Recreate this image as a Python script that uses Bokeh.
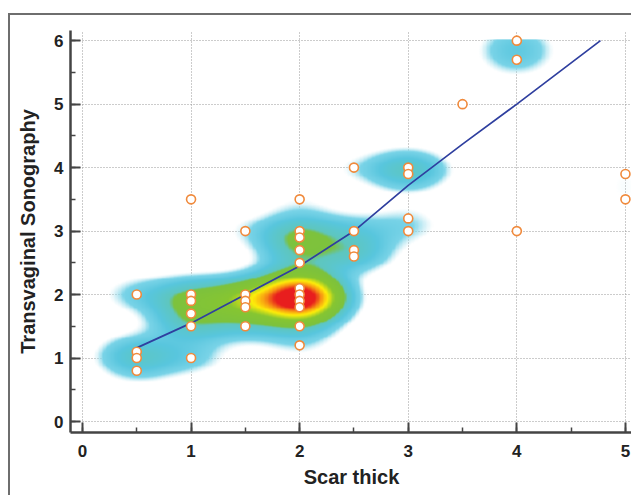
import numpy as np
from bokeh.plotting import figure
from bokeh.models import SingleIntervalTicker, Range1d
from bokeh.embed import file_html
from bokeh.resources import INLINE

# ---- data ----
scar_x = [0.5, 0.5, 0.5, 0.5,
          1, 1, 1, 1, 1, 1,
          1.5, 1.5, 1.5, 1.5, 1.5,
          2, 2, 2, 2, 2, 2, 2, 2, 2, 2, 2,
          2.5, 2.5, 2.5, 2.5,
          3, 3, 3, 3,
          3.5,
          4, 4, 4,
          5, 5]
tvs_y = [2.0, 1.1, 1.0, 0.8,
         3.5, 2.0, 1.9, 1.7, 1.5, 1.0,
         3.0, 2.0, 1.9, 1.8, 1.5,
         3.5, 3.0, 2.9, 2.7, 2.5, 2.1, 2.0, 1.9, 1.8, 1.5, 1.2,
         4.0, 3.0, 2.7, 2.6,
         4.0, 3.9, 3.2, 3.0,
         5.0,
         6.0, 5.7, 3.0,
         3.9, 3.5]
counts = [2, 2, 2, 1,
          1, 3, 2, 2, 3, 2,
          1, 4, 3, 3, 2,
          1, 3, 2, 2, 2, 6, 8, 8, 6, 2, 1,
          1, 2, 2, 2,
          3, 2, 1, 1,
          1,
          2, 2, 1,
          1, 1]

fit_x = [0.5, 1.0, 1.5, 2.0, 2.5, 3.0, 3.5, 4.0, 4.77]
fit_y = [1.16, 1.55, 2.0, 2.45, 3.0, 3.72, 4.37, 5.0, 6.0]

x_label = "Scar thick"
y_label = "Transvaginal Sonography"

# ---- density image (kernel density of the points) ----
x0, x1 = -0.11, 5.065
y0, y1 = -0.173, 6.02
nx, ny = 420, 420
gx = np.linspace(x0, x1, nx)
gy = np.linspace(y0, y1, ny)
X, Y = np.meshgrid(gx, gy)
sx, sy = 0.25, 0.21
D = np.zeros_like(X)
for px, py, c in zip(scar_x, tvs_y, counts):
    D += c * np.exp(-((X - px) ** 2 / (2 * sx ** 2) + (Y - py) ** 2 / (2 * sy ** 2)))

stops = [0, 1.2, 2.0, 3.5, 5.7, 6.2, 11.0, 15.0, 18.5, 22.0]
R = [190, 190, 122, 88, 95, 125, 135, 255, 248, 232]
G = [232, 232, 212, 198, 198, 194, 198, 238, 150, 30]
B = [242, 242, 232, 222, 190, 62, 50, 10, 20, 30]
A = [0, 0, 255, 255, 255, 255, 255, 255, 255, 255]
r = np.interp(D, stops, R).astype(np.uint32)
g = np.interp(D, stops, G).astype(np.uint32)
b = np.interp(D, stops, B).astype(np.uint32)
a = np.interp(D, stops, A).astype(np.uint32)
img = ((a << 24) | (b << 16) | (g << 8) | r).astype(np.uint32)

# ---- figure ----
p = figure(width=623, height=482, output_backend="svg", toolbar_location=None,
           x_range=Range1d(-0.11, 5.065), y_range=Range1d(-0.173, 6.16),
           min_border_left=60, min_border_right=1, min_border_top=15, min_border_bottom=65)
p.styles = {"margin-left": "8px", "margin-top": "13px",
            "border-top": "2px solid #6e6e6e", "border-left": "2px solid #6e6e6e"}
p.outline_line_color = None
p.background_fill_color = "white"
p.border_fill_color = "white"

p.image_rgba(image=[img], x=x0, y=y0, dw=x1 - x0, dh=y1 - y0)

p.line(fit_x, fit_y, line_color="#2f3f9f", line_width=1.7)
p.scatter(scar_x, tvs_y, size=9, fill_color="white", line_color="#f08a3c", line_width=1.6)

for ax in (p.xaxis[0], p.yaxis[0]):
    ax.ticker = SingleIntervalTicker(interval=1, num_minor_ticks=2)
    ax.axis_line_color = "#444444"
    ax.axis_line_width = 2.5
    ax.major_tick_line_color = "#444444"
    ax.major_tick_line_width = 2
    ax.minor_tick_line_color = "#444444"
    ax.minor_tick_line_width = 1.5
    ax.major_tick_in = 10
    ax.major_tick_out = 0
    ax.minor_tick_in = 5
    ax.minor_tick_out = 0
    ax.major_label_text_font = "Liberation Sans"
    ax.major_label_text_font_style = "bold"
    ax.major_label_text_font_size = "17px"
    ax.major_label_text_color = "#222222"
    ax.axis_label_text_font = "Liberation Sans"
    ax.axis_label_text_font_style = "bold"
    ax.axis_label_text_font_size = "20px"
    ax.axis_label_text_color = "#222222"

p.xaxis.axis_label = x_label
p.yaxis.axis_label = y_label
p.xaxis.major_label_standoff = 12
p.xaxis.axis_label_standoff = 6
p.yaxis.major_label_standoff = 7
p.yaxis.axis_label_standoff = 12

for grd in (p.xgrid[0], p.ygrid[0]):
    grd.ticker = SingleIntervalTicker(interval=1)
    grd.grid_line_color = "#999999"
    grd.grid_line_dash = "1 2"
    grd.grid_line_width = 1

open("out.html", "w").write(file_html(p, INLINE))
